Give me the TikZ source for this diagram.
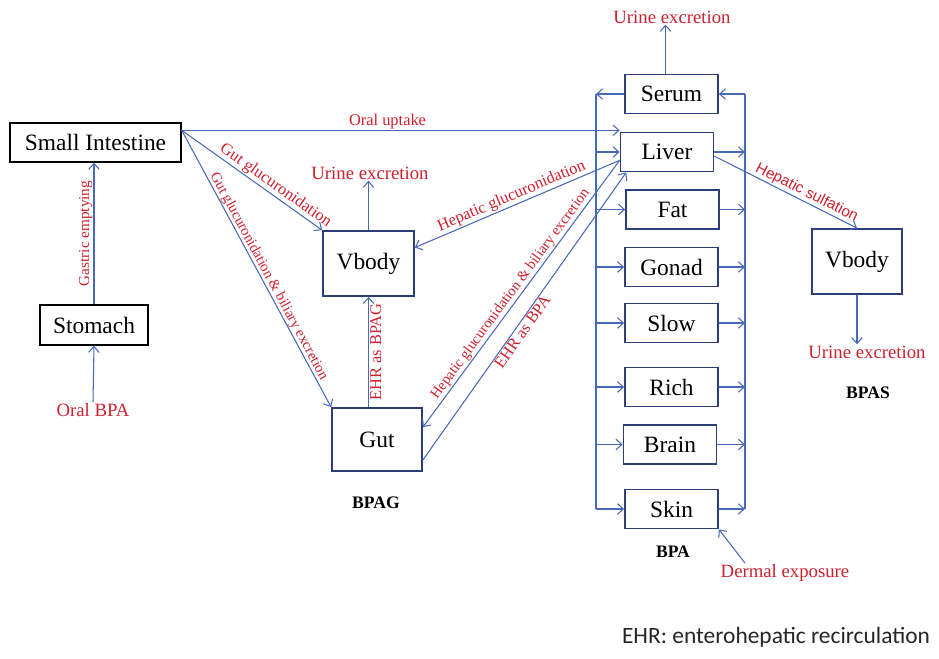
\documentclass[tikz,border=0pt]{standalone}
\usepackage{fontspec}
\setmainfont{Liberation Serif}
\newfontfamily\notefont{Carlito}
\newfontfamily\sulffont{Liberation Sans}
\usetikzlibrary{arrows.meta}
\definecolor{lineblue}{RGB}{72,104,184}
\definecolor{boxblue}{RGB}{44,62,122}
\definecolor{txtred}{RGB}{206,32,46}
\begin{document}
\begin{tikzpicture}[x=0.03cm, y=-0.03cm, >={Straight Barb[length=5pt,width=9pt]},
		organ/.style={draw=boxblue, line width=1.5pt, minimum width=2.79cm, minimum height=1.17cm, inner sep=0pt, font=\fontsize{20}{24}\selectfont},
		plainbox/.style={draw=black, line width=1.2pt, inner sep=0pt, font=\fontsize{20}{24}\selectfont},
		flow/.style={->, lineblue, line width=0.9pt},
		redlab/.style={text=txtred, font=\fontsize{16}{19}\selectfont, inner sep=1pt},
		slab/.style={text=txtred, font=\fontsize{12.5}{15}\selectfont, inner sep=1pt},
		mlab/.style={text=txtred, font=\fontsize{14}{17}\selectfont, inner sep=1pt},
		grouplab/.style={font=\fontsize{15}{18}\selectfont\bfseries}]
	\useasboundingbox (0,0) rectangle (939,658);
	
	% 胃肠
	\node[plainbox, minimum width=5.13cm, minimum height=1.17cm] (SI) at (95.5,142.5) {Small Intestine};
	\node[plainbox, minimum width=3.24cm, minimum height=1.2cm] (Stomach) at (94,325) {Stomach};
	\node[redlab] (OralBPA) at (93,410) {Oral BPA};
	
	% BPAG
	\node[organ, minimum width=2.73cm, minimum height=1.95cm] (VbodyG) at (368.5,263.5) {Vbody};
	\node[organ, minimum width=2.7cm, minimum height=1.89cm] (Gut) at (377,439.5) {Gut};
	\node[redlab] (UrineG) at (370,173) {Urine excretion};
	\node[grouplab] (BPAG) at (376,503) {BPAG};
	
	% BPA 各房室
	\foreach \name/\x/\y in {Serum/671.5/94, Liver/667/152, Fat/672.5/209.5, Gonad/671.5/267,
			Slow/671.5/323, Rich/671.5/387, Brain/670/444.5, Skin/671.5/509}
		\node[organ] (\name) at (\x,\y) {\name};
	\node[redlab] (UrineS) at (672,17) {Urine excretion};
	\node[grouplab] (BPA) at (673,552) {BPA};
	\node[redlab] (Dermal) at (785,573) {Dermal exposure};
	
	% BPAS
	\node[organ, minimum width=2.7cm, minimum height=1.95cm] (VbodyS) at (857,261.5) {Vbody};
	\node[redlab] (UrineB) at (867,352) {Urine excretion};
	\node[grouplab] (BPAS) at (868,393) {BPAS};
	
	% 注释
	\node[font=\notefont\fontsize{20}{24}\selectfont, text=black!85] (EHRnote) at (776,637) {EHR: enterohepatic recirculation};
	
	% 血液总线
	\coordinate (lbus) at (596,0);
	\coordinate (rbus) at (745,0);
	\draw[lineblue, line width=0.9pt] (Serum.west -| lbus) -- (Skin.west -| lbus);
	\draw[lineblue, line width=0.9pt] (Serum.east -| rbus) -- (Skin.east -| rbus);
	\draw[flow] (Serum.west) -- (Serum.west -| lbus);
	\draw[flow] (Serum.east -| rbus) -- (Serum.east);
	\foreach \name in {Liver,Fat,Gonad,Slow,Rich,Brain,Skin} {
		\draw[flow] (\name.west -| lbus) -- (\name.west);
		\draw[flow] (\name.east) -- (\name.east -| rbus);
	}
	
	% 吸收与代谢
	\draw[flow] (OralBPA.north) -- (Stomach.south);
	\draw[flow] (Stomach.north) -- (Stomach.north |- SI.south) node[midway, sloped, above, slab, font=\fontsize{13}{15}\selectfont] {Gastric emptying};
	\coordinate (siout) at ([yshift=-0.24cm]SI.north east);
	\draw[flow] (siout) -- (siout -| Liver.west) node[pos=0.47, above, mlab] {Oral uptake};
	\draw[flow] (siout) -- (VbodyG.north west) node[pos=0.63, sloped, above, mlab] {Gut glucuronidation};
	\draw[flow] (siout) -- (Gut.north west) node[pos=0.54, sloped, above, slab, inner sep=0pt] {Gut glucuronidation \& biliary excretion};
	\draw[flow] (VbodyG.south |- Gut.north) -- (VbodyG.south) node[midway, sloped, below, mlab] {EHR as BPAG};
	\draw[flow] (VbodyG.north) -- (VbodyG.north |- UrineG.south);
	\draw[flow] ([xshift=-0.18cm]Serum.north) -- ([xshift=-0.18cm]Serum.north |- UrineS.south);
	\draw[flow] (VbodyS.south) -- (VbodyS.south |- UrineB.north);
	
	% 肝脏
	\draw[flow] (Liver.190) -- (VbodyG.19) node[pos=0.51, sloped, above, mlab] {Hepatic glucuronidation};
	\draw[flow] (Liver.190) -- (Gut.15) node[pos=0.52, sloped, above, slab] {Hepatic glucuronidation \& biliary excretion};
	\draw[flow] (Gut.-24) -- ([xshift=0.2cm]Liver.south west) node[pos=0.46, sloped, below, mlab] {EHR as BPA};
	\draw[flow] (Liver.-5) -- (VbodyS.north) node[pos=0.62, sloped, above, slab, font=\sulffont\fontsize{13}{15}\selectfont] {Hepatic sulfation};
	\draw[flow] ([xshift=-1.2cm]Dermal.north) -- (Skin.south east);
\end{tikzpicture}
\end{document}
